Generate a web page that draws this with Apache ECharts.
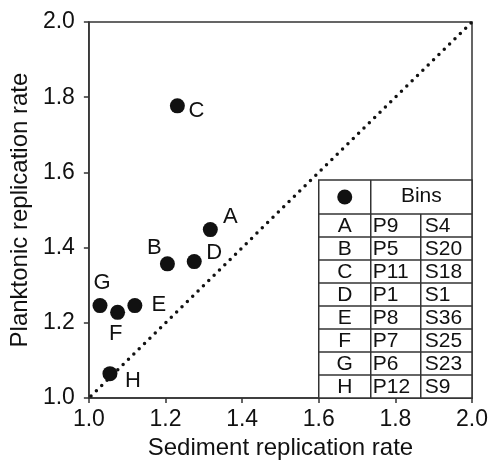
<!DOCTYPE html>
<html>
<head>
<meta charset="utf-8">
<script src="https://cdn.jsdelivr.net/npm/echarts@6/dist/echarts.min.js"></script>
<style>
    html, body { margin: 0; padding: 0; background: #fff; }
    #chart { width: 493px; height: 465px; }
</style>
</head>
<body>
<div id="chart"></div>
<script>
// bins, in table order
const binNames = ['A', 'B', 'C', 'D', 'E', 'F', 'G', 'H'];
const planktonicBins = ['P9', 'P5', 'P11', 'P1', 'P8', 'P7', 'P6', 'P12'];
const sedimentBins = ['S4', 'S20', 'S18', 'S1', 'S36', 'S25', 'S23', 'S9'];

// replication rates
const sedimentRate = [1.317, 1.205, 1.231, 1.275, 1.120, 1.075, 1.029, 1.055];
const planktonicRate = [1.448, 1.357, 1.777, 1.363, 1.246, 1.228, 1.246, 1.065];

// 1:1 reference line
const oneToOne = [[1.0, 1.0], [2.0, 2.0]];

const axisTicks = [1.0, 1.2, 1.4, 1.6, 1.8, 2.0];

// where each letter sits around its dot (px)
const labelOffset = {
    A: [20, -13], B: [-13, -16], C: [19, 5], D: [20, -9],
    E: [24, -1], F: [-2, 22], G: [2, -23], H: [23, 7]
};

const FONT = '"Liberation Sans", Arial, Helvetica, sans-serif';
const INK = '#111';
const LINE = '#333';

const chart = echarts.init(document.getElementById('chart'));

const pointData = binNames.map((name, i) => ({
    name: name,
    value: [sedimentRate[i], planktonicRate[i]],
    label: { offset: labelOffset[name] }
}));

function valueAxis(name, nameGap, labelMargin) {
    return {
        type: 'value',
        min: axisTicks[0],
        max: axisTicks[axisTicks.length - 1],
        interval: 0.2,
        name: name,
        nameLocation: 'middle',
        nameGap: nameGap,
        nameTextStyle: { fontSize: 24, color: INK, fontFamily: FONT },
        axisLine: { show: true, lineStyle: { color: LINE, width: 1.5 } },
        axisTick: { show: true, inside: false, length: 5, lineStyle: { color: LINE, width: 1.5 } },
        axisLabel: {
            fontSize: 23,
            color: INK,
            fontFamily: FONT,
            margin: labelMargin,
            formatter: v => v.toFixed(1)
        },
        splitLine: { show: false }
    };
}

const option = {
    backgroundColor: '#fff',
    animation: false,
    grid: {
        left: 87,
        right: 21,
        top: 22,
        bottom: 57,
        show: true,
        borderColor: LINE,
        borderWidth: 1.5
    },
    xAxis: valueAxis('Sediment replication rate', 24, 10),
    yAxis: valueAxis('Planktonic replication rate', 54, 14),
    series: [
        {
            type: 'line',
            data: oneToOne,
            symbol: 'none',
            silent: true,
            lineStyle: { color: INK, width: 3.5, type: [0, 7.5], cap: 'round', dashOffset: -3 },
            z: 1
        },
        {
            type: 'scatter',
            data: pointData,
            symbol: 'circle',
            symbolSize: 15,
            itemStyle: { color: INK, opacity: 1 },
            label: {
                show: true,
                position: 'inside',
                formatter: '{b}',
                color: INK,
                fontSize: 22,
                fontFamily: FONT
            },
            z: 3
        }
    ]
};

chart.setOption(option);

// inset table, anchored in data space at x 1.6..2.0, y 1.0..1.58
const tl = chart.convertToPixel({ gridIndex: 0 }, [1.6, 1.58]);
const br = chart.convertToPixel({ gridIndex: 0 }, [2.0, 1.0]);
const x0 = tl[0], y0 = tl[1], x1 = br[0], y1 = br[1];
const headerH = 34;
const rowH = (y1 - y0 - headerH) / binNames.length;
const colA = x0 + 52;
const colB = x0 + 102;
const lineStyle = { stroke: LINE, lineWidth: 1.5 };

function hLine(y, xa, xb) {
    return { type: 'line', shape: { x1: xa, y1: y, x2: xb, y2: y }, style: lineStyle };
}
function vLine(x, ya, yb) {
    return { type: 'line', shape: { x1: x, y1: ya, x2: x, y2: yb }, style: lineStyle };
}
function cellText(text, x, y, align) {
    return {
        type: 'text',
        style: { text: text, x: x, y: y, fill: INK, fontSize: 21, fontFamily: FONT, align: align, verticalAlign: 'middle' }
    };
}

const table = [
    { type: 'rect', shape: { x: x0, y: y0, width: x1 - x0, height: y1 - y0 }, style: { fill: '#fff', stroke: LINE, lineWidth: 1.5 } },
    vLine(colA, y0, y1),
    vLine(colB, y0 + headerH, y1),
    { type: 'circle', shape: { cx: (x0 + colA) / 2, cy: y0 + headerH / 2, r: 7.5 }, style: { fill: INK } },
    cellText('Bins', (colA + x1) / 2, y0 + headerH / 2 - 1, 'center')
];

binNames.forEach((name, i) => {
    const top = y0 + headerH + i * rowH;
    const mid = top + rowH / 2 + 1;
    table.push(hLine(top, x0, x1));
    table.push(cellText(name, (x0 + colA) / 2, mid, 'center'));
    table.push(cellText(planktonicBins[i], colB - 48, mid, 'left'));
    table.push(cellText(sedimentBins[i], colB + 4, mid, 'left'));
});

chart.setOption({ graphic: { elements: table.map(el => Object.assign({ silent: true, z: 10 }, el)) } });
</script>
</body>
</html>
